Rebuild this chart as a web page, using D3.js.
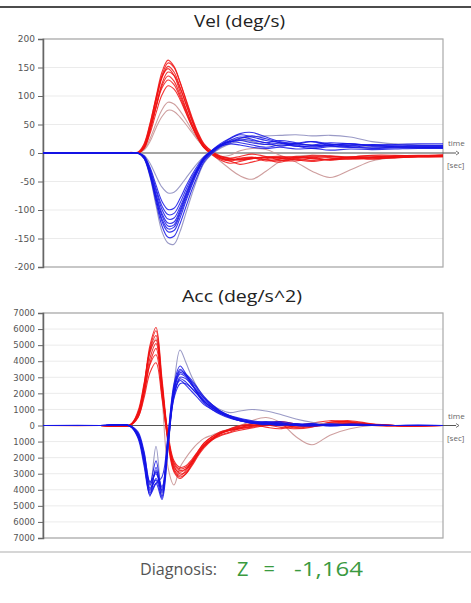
<!DOCTYPE html>
<html><head><meta charset="utf-8">
<script src="https://cdn.jsdelivr.net/npm/d3@7"></script>
<style>
html,body{margin:0;padding:0;background:#fff;}
svg{display:block;}
</style></head>
<body>
<svg id="chart" width="471" height="603"></svg>
<script>
// ---- time samples (s) ----
const timeSec = [0,0.57,0.87,0.95,1.01,1.07,1.13,1.19,1.25,1.31,1.37,1.43,1.49,1.55,1.61,1.69,1.77,1.87,1.97,2.09,2.23,2.37,2.53,2.69,2.87,3.07,3.29,3.52,3.75,4.0];

// ---- axis ticks ----
const velTicks = [200,150,100,50,0,-50,-100,-150,-200];
const velTickLabels = ["200","150","100","50","0","-50","-100","-150","-200"];
const accTicks = [7000,6000,5000,4000,3000,2000,1000,0,-1000,-2000,-3000,-4000,-5000,-6000,-7000];
const accTickLabels = ["7000","6000","5000","4000","3000","2000","1000","0","1000","2000","3000","4000","5000","6000","7000"];

// ---- velocity traces (deg/s) ----
const velRed = [
 [0,0,0,0,14,50,98,142,163,152,125,92,60,32,13,0,-8,-12,-10,-8,-14,-10,-6,-9,-12,-7,-5,-8,-6,-5],
 [0,0,0,1,10,44,92,136,158,150,124,94,63,36,16,2,-6,-10,-12,-9,-7,-12,-14,-9,-6,-9,-11,-7,-7,-6],
 [0,0,0,0,12,46,90,132,152,142,116,86,56,30,12,-2,-10,-14,-11,-9,-12,-16,-10,-8,-12,-10,-8,-9,-6,-6],
 [0,0,1,2,16,52,96,134,148,136,108,78,50,26,9,-3,-12,-18,-15,-10,-8,-9,-12,-15,-11,-8,-10,-8,-7,-7],
 [0,0,0,0,8,38,82,122,142,136,114,86,58,34,15,3,-5,-9,-6,-2,-6,-9,-8,-4,-5,-7,-4,-4,-5,-3],
 [0,0,0,0,9,40,80,118,135,126,102,76,50,28,12,0,-8,-14,-20,-16,-10,-8,-11,-13,-10,-7,-9,-6,-6,-5],
 [0,0,0,1,11,42,80,114,128,120,98,72,47,26,10,-1,-9,-12,-9,-7,-11,-13,-9,-6,-8,-11,-8,-6,-5,-4],
 [0,0,0,0,8,34,70,102,118,112,94,70,46,26,10,0,-6,-10,-12,-10,-7,-6,-8,-10,-12,-9,-7,-5,-4,-4]
];
const velRedLight = [
 [0,0,0,0,6,25,52,76,89,86,74,58,40,24,10,-2,-14,-28,-40,-46,-32,-15,-6,-4,-6,-7,-6,-5,-5,-4],
 [0,0,0,0,5,20,44,64,75,73,63,50,36,22,10,0,-6,-4,4,8,6,-4,-16,-32,-43,-30,-14,-8,-6,-5]
];
const velBlue = [
 [0,0,0,-1,-9,-40,-86,-128,-148,-146,-124,-94,-64,-38,-16,-1,10,18,24,22,18,12,17,20,13,10,14,11,10,10],
 [0,0,0,0,-8,-36,-80,-120,-138,-136,-114,-84,-56,-32,-13,1,12,20,26,30,25,18,14,10,14,16,12,12,11,11],
 [0,0,0,0,-9,-38,-80,-116,-133,-130,-108,-80,-53,-30,-12,2,12,22,28,24,18,22,18,13,13,16,13,12,12,12],
 [0,0,0,0,-8,-35,-75,-110,-128,-126,-104,-76,-50,-28,-10,4,14,20,22,18,15,17,12,12,15,11,9,10,10,10],
 [0,0,0,0,-7,-33,-72,-106,-123,-121,-100,-73,-48,-27,-10,3,13,25,32,28,22,18,16,20,16,13,15,14,13,13],
 [0,0,0,0,-6,-30,-66,-99,-116,-114,-95,-70,-46,-26,-9,4,14,20,18,14,10,14,12,8,11,10,8,9,9,9],
 [0,0,0,0,-6,-28,-62,-93,-108,-106,-88,-64,-42,-24,-8,5,16,26,34,36,28,20,16,14,18,16,14,15,16,16],
 [0,0,0,0,-5,-25,-56,-85,-99,-97,-80,-58,-38,-21,-7,4,12,16,14,10,8,10,7,8,5,7,6,7,8,8]
];
const velBlueLight = [
 [0,0,0,0,-10,-42,-92,-138,-158,-160,-138,-105,-72,-42,-18,-2,8,16,22,20,15,14,16,14,12,13,11,10,9,9],
 [0,0,0,0,-4,-18,-40,-60,-70,-69,-58,-44,-30,-17,-6,4,14,22,26,28,30,31,32,30,31,28,20,16,14,13]
];

// ---- acceleration traces (deg/s^2) ----
const accRed = [
 [0,0,40,800,2500,5000,6100,2900,-600,-2500,-3000,-2900,-2400,-1800,-1300,-850,-600,-400,-200,-50,150,100,-100,0,200,250,80,0,-50,0],
 [0,0,20,700,2300,4800,5900,2700,-800,-2700,-3100,-2800,-2300,-1700,-1200,-800,-500,-300,-150,100,200,0,-150,-50,100,150,50,-20,0,0],
 [0,0,30,750,2400,4700,5600,2500,-900,-2800,-3200,-3000,-2500,-1900,-1400,-900,-550,-250,-50,50,-100,-200,0,150,300,200,0,-50,-30,0],
 [0,0,50,900,2600,4600,5300,2200,-1100,-2900,-3300,-3000,-2400,-1800,-1300,-900,-650,-450,-300,-150,0,150,100,-50,50,100,50,0,0,0],
 [0,0,20,600,2100,4200,5100,2400,-700,-2400,-2800,-2700,-2300,-1800,-1300,-850,-500,-200,0,100,50,-100,-200,-100,200,300,100,0,-40,0],
 [0,0,10,500,1900,3900,4800,2300,-500,-2200,-2600,-2500,-2100,-1600,-1100,-700,-400,-250,-100,0,150,250,100,0,50,80,30,0,0,0],
 [0,0,30,650,2000,3800,4400,1900,-900,-2600,-2900,-2700,-2200,-1600,-1100,-700,-450,-300,-200,-100,0,50,-50,0,100,120,40,0,-20,0],
 [0,0,20,500,1700,3300,3900,1700,-800,-2300,-2700,-2600,-2200,-1700,-1200,-800,-500,-300,-150,-50,100,150,50,0,150,200,80,0,0,0]
];
const accRedLight = [
 [0,0,20,600,2200,4500,5400,1800,-2600,-3700,-2600,-2000,-1500,-1100,-800,-600,-400,-200,0,300,500,200,-700,-1200,-600,-200,0,0,0,0]
];
const accBlue = [
 [0,0,-40,-700,-2300,-4400,-2600,-4500,-800,2400,3500,3100,2600,2000,1500,1100,800,500,300,200,100,200,0,100,0,100,50,0,30,0],
 [0,0,-20,-600,-2000,-4100,-3300,-4000,-1000,2100,3200,3000,2500,2000,1600,1200,900,600,400,250,150,100,50,100,-50,50,0,0,0,0],
 [0,0,-30,-500,-1700,-3600,-2200,-4200,-1200,1800,3000,2900,2500,2100,1700,1300,900,550,350,200,250,150,0,50,50,0,50,0,0,0],
 [0,0,-50,-800,-2500,-4300,-3600,-3200,-600,2600,3700,3200,2600,1900,1400,1000,700,450,300,150,100,0,100,0,100,50,0,0,20,0],
 [0,0,-20,-500,-1900,-3900,-3400,-4400,-1300,1900,2900,2700,2300,1900,1500,1100,800,600,450,300,200,250,100,0,0,50,0,0,0,0],
 [0,0,-30,-600,-2100,-4000,-2800,-3900,-700,2300,3400,3200,2800,2300,1800,1300,900,600,350,200,100,50,0,-50,50,0,0,0,0,0],
 [0,0,-20,-400,-1600,-3500,-3000,-4100,-1100,2000,2800,2500,2100,1700,1300,1000,750,500,300,150,200,100,50,100,0,0,0,0,0,0],
 [0,0,-40,-700,-2200,-4200,-3600,-4600,-1400,2200,3300,3100,2700,2200,1700,1200,850,500,300,150,50,100,0,0,50,0,0,0,0,0],
 [0,0,-30,-650,-2000,-3700,-2900,-3800,-900,1700,2600,2600,2300,1900,1500,1100,800,550,400,250,150,50,100,50,0,0,0,0,0,0]
];
const accBlueLight = [
 [0,0,-30,-500,-1800,-3800,-1300,-4300,-1500,2500,4700,3900,3000,2300,1800,1300,1000,800,900,1000,900,700,400,200,100,50,0,0,0,0]
];

const svg = d3.select("#chart");

// top rule
svg.append("line").attr("x1",0).attr("x2",471).attr("y1",7).attr("y2",7)
  .attr("stroke","#111").attr("stroke-width",1.6);

function panel(cfg){
  const x = d3.scaleLinear().domain([0,4]).range([43,443]);
  const y = d3.scaleLinear().domain([-cfg.yMax,cfg.yMax]).range([cfg.bottom,cfg.top]);
  const g = svg.append("g");
  // title
  g.append("text").attr("x",cfg.titleX).attr("y",cfg.titleY)
    .attr("font-family","'Open Sans', sans-serif").attr("font-size",16).attr("fill","#222")
    .attr("textLength",cfg.titleW).attr("lengthAdjust","spacingAndGlyphs")
    .text(cfg.title);
  // grid
  g.append("g").selectAll("line").data(cfg.ticks).join("line")
    .attr("x1",43).attr("x2",443).attr("y1",d=>y(d)).attr("y2",d=>y(d))
    .attr("stroke","#ebebeb").attr("stroke-width",1);
  // frame
  g.append("rect").attr("x",43).attr("y",cfg.top).attr("width",400).attr("height",cfg.bottom-cfg.top)
    .attr("fill","none").attr("stroke","#a8a8a8").attr("stroke-width",1.2);
  // zero / time axis
  g.append("line").attr("x1",43).attr("x2",456).attr("y1",y(0)).attr("y2",y(0))
    .attr("stroke","#555").attr("stroke-width",1);
  g.append("path").attr("d",`M${456},${y(0)-2}L${459},${y(0)}L${456},${y(0)+2}`)
    .attr("fill","none").attr("stroke","#555").attr("stroke-width",0.8);
  g.append("text").attr("x",448).attr("y",y(0)-7).attr("font-family","'Open Sans', sans-serif")
    .attr("font-size",8).attr("fill","#666").text("time");
  g.append("text").attr("x",447).attr("y",y(0)+15).attr("font-family","'Open Sans', sans-serif")
    .attr("font-size",8).attr("fill","#666").text("[sec]");
  // y axis
  const ax = d3.axisLeft(y).tickValues(cfg.ticks).tickFormat((d,i)=>cfg.labels[i]).tickSize(5).tickPadding(3);
  const axg = g.append("g").attr("transform","translate(43,0)").call(ax);
  axg.select(".domain").attr("stroke","#666").attr("stroke-width",1.5);
  axg.selectAll(".tick line").attr("stroke","#666");
  axg.selectAll(".tick text").attr("font-family","'DejaVu Sans', sans-serif").attr("font-size",cfg.tickFont).attr("fill","#555");
  // traces
  const clipId = "clip"+cfg.top;
  svg.append("clipPath").attr("id",clipId).append("rect")
    .attr("x",43).attr("y",cfg.top).attr("width",400).attr("height",cfg.bottom-cfg.top);
  const line = d3.line().x((d,i)=>x(timeSec[i])).y(d=>y(d)).curve(d3.curveCatmullRom.alpha(0.5));
  const tg = g.append("g").attr("clip-path",`url(#${clipId})`);
  const groups = [
    [cfg.redLight,"#c99494",0.9],
    [cfg.red,"#f01010",0.85],
    [cfg.blueLight,"#8f8fc0",0.9],
    [cfg.blue,"#1414e6",0.85]
  ];
  groups.forEach(([arr,col,op])=>{
    tg.append("g").selectAll("path").data(arr).join("path")
      .attr("d",line).attr("fill","none").attr("stroke",col)
      .attr("stroke-opacity",op).attr("stroke-width",1.1);
  });
}

panel({top:39,bottom:267,yMax:200,ticks:velTicks,labels:velTickLabels,title:"Vel (deg/s)",
  titleX:194,titleY:27,titleW:91,tickFont:9,
  red:velRed,redLight:velRedLight,blue:velBlue,blueLight:velBlueLight});
panel({top:313,bottom:538,yMax:7000,ticks:accTicks,labels:accTickLabels,title:"Acc (deg/s^2)",
  titleX:182,titleY:302,titleW:120,tickFont:8.5,
  red:accRed,redLight:accRedLight,blue:accBlue,blueLight:accBlueLight});

// separator
svg.append("line").attr("x1",0).attr("x2",471).attr("y1",552).attr("y2",552)
  .attr("stroke","#d6d6d6").attr("stroke-width",2);

// diagnosis
svg.append("text").attr("x",140).attr("y",575).attr("font-family","'Open Sans', sans-serif")
  .attr("font-size",16.5).attr("fill","#555").attr("textLength",77).attr("lengthAdjust","spacingAndGlyphs")
  .text("Diagnosis:");
svg.append("text").attr("x",237).attr("y",576).attr("font-family","'Open Sans', sans-serif")
  .attr("font-size",20).attr("fill","#3a9a3f").attr("textLength",38).attr("lengthAdjust","spacing").text("Z =");
svg.append("text").attr("x",294).attr("y",576).attr("font-family","'Open Sans', sans-serif")
  .attr("font-size",20).attr("fill","#3a9a3f").attr("textLength",69).attr("lengthAdjust","spacingAndGlyphs")
  .text("-1,164");
</script>
</body></html>
